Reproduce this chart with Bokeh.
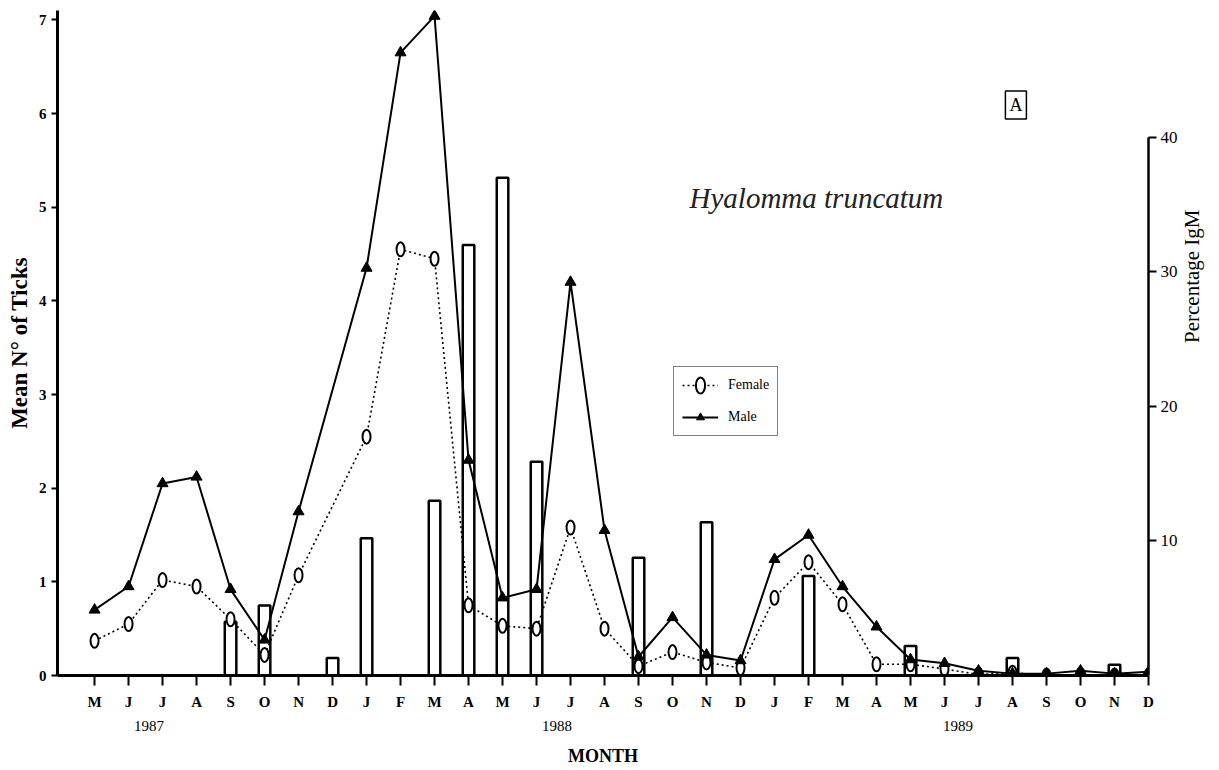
import math
from bokeh.plotting import figure
from bokeh.models import (Range1d, LinearAxis, FixedTicker, Legend, LegendItem, Label)
from bokeh.embed import file_html
from bokeh.resources import INLINE

# ---- data ----
months = ["M", "J", "J", "A", "S", "O", "N", "D",
          "J", "F", "M", "A", "M", "J", "J", "A", "S", "O", "N", "D",
          "J", "F", "M", "A", "M", "J", "J", "A", "S", "O", "N", "D"]
years = ["1987", "1988", "1989"]
year_pos = [1.6, 13.6, 25.4]

female = [0.37, 0.55, 1.02, 0.95, 0.60, 0.22, 1.07, None,
          2.55, 4.55, 4.45, 0.75, 0.53, 0.50, 1.58, 0.50, 0.10, 0.25, 0.14, 0.08,
          0.83, 1.21, 0.76, 0.12, 0.12, 0.07, 0.01, 0.03, 0.00, 0.01, 0.00, 0.00]
male = [0.70, 0.95, 2.05, 2.12, 0.92, 0.38, 1.75, None,
        4.35, 6.65, 7.04, 2.30, 0.83, 0.92, 4.20, 1.55, 0.20, 0.62, 0.22, 0.16,
        1.24, 1.50, 0.95, 0.52, 0.17, 0.13, 0.05, 0.02, 0.02, 0.05, 0.02, 0.04]
igm = [None, None, None, None, 4.0, 5.2, None, 1.3,
       10.2, None, 13.0, 32.0, 37.0, 15.9, None, None, 8.75, None, 11.4, None,
       None, 7.4, None, None, 2.2, None, None, 1.3, None, None, 0.8, None]

left_ticks = [0, 1, 2, 3, 4, 5, 6, 7]
right_ticks = [10, 20, 30, 40]

# ---- derived ----
xs = list(range(len(months)))
fx = [i for i, v in zip(xs, female) if v is not None]
fy = [v for v in female if v is not None]
mx = [i for i, v in zip(xs, male) if v is not None]
my = [v for v in male if v is not None]
bx = [i for i, v in zip(xs, igm) if v is not None]
by = [v for v in igm if v is not None]

SERIF = "Liberation Serif"

p = figure(frame_width=1091, frame_height=665,
           x_range=Range1d(-1.09, 31.0), y_range=Range1d(0, 7.10),
           output_backend="svg", toolbar_location=None,
           min_border_left=57, min_border_right=63,
           min_border_top=10, min_border_bottom=93,
           outline_line_color=None,
           background_fill_color="white", border_fill_color="white")
p.extra_y_ranges = {"igm": Range1d(0, 49.44)}
p.grid.visible = False

# bottom month axis
xa = p.xaxis[0]
xa.ticker = FixedTicker(ticks=xs)
xa.major_label_overrides = {i: m for i, m in enumerate(months)}
xa.axis_line_width = 3
xa.axis_line_color = "black"
xa.major_tick_out = 10
xa.major_tick_in = 0
xa.minor_tick_out = 0
xa.minor_tick_in = 0
xa.major_tick_line_width = 2
xa.major_tick_line_color = "black"
xa.major_label_standoff = 8
xa.major_label_text_font = SERIF
xa.major_label_text_font_size = "15px"
xa.major_label_text_font_style = "bold"
xa.major_label_text_color = "black"

# year axis + MONTH title
yr = LinearAxis(ticker=FixedTicker(ticks=year_pos),
                major_label_overrides=dict(zip(year_pos, years)),
                axis_line_color=None, major_tick_line_color=None,
                minor_tick_line_color=None, major_tick_out=0, major_tick_in=0,
                minor_tick_out=0, minor_tick_in=0,
                major_label_standoff=8,
                major_label_text_font=SERIF, major_label_text_font_size="15px",
                major_label_text_color="black",
                axis_label="MONTH", axis_label_text_font=SERIF,
                axis_label_text_font_size="18px", axis_label_text_font_style="bold",
                axis_label_text_color="black", axis_label_standoff=12)
p.add_layout(yr, "below")

# left axis
ya = p.yaxis[0]
ya.ticker = FixedTicker(ticks=left_ticks)
ya.axis_line_width = 3
ya.axis_line_color = "black"
ya.major_tick_out = 6
ya.major_tick_in = 0
ya.minor_tick_out = 0
ya.minor_tick_in = 0
ya.major_tick_line_width = 2
ya.major_label_standoff = 5
ya.major_label_text_font = SERIF
ya.major_label_text_font_size = "15px"
ya.major_label_text_font_style = "bold"
ya.major_label_text_color = "black"
ya.axis_label = "Mean N° of Ticks"
ya.axis_label_text_font = SERIF
ya.axis_label_text_font_size = "23px"
ya.axis_label_text_font_style = "bold"
ya.axis_label_text_color = "black"
ya.axis_label_standoff = 4

# right axis
ra = LinearAxis(y_range_name="igm", ticker=FixedTicker(ticks=right_ticks),
                bounds=(0, 40), axis_line_width=2.5, axis_line_color="black",
                major_tick_out=8, major_tick_in=0, minor_tick_out=0, minor_tick_in=0,
                major_tick_line_width=2,
                major_label_standoff=4,
                major_label_text_font=SERIF, major_label_text_font_size="17px",
                major_label_text_color="black",
                axis_label="Percentage IgM", axis_label_text_font=SERIF,
                axis_label_text_font_size="21px", axis_label_text_font_style="normal",
                axis_label_text_color="black", axis_label_standoff=11,
                axis_label_orientation=-3 * math.pi / 2)
p.add_layout(ra, "right")

# bars (IgM)
p.vbar(x=bx, top=by, bottom=0, width=0.34, y_range_name="igm",
       fill_color="white", line_color="black", line_width=2.5)

# lines
ml = p.line(mx, my, line_color="black", line_width=2)
fl = p.line(fx, fy, line_color="black", line_width=1.6, line_dash="2 3")
fe = p.ellipse(x=fx, y=fy, width=8, height=14, width_units="screen",
               height_units="screen", fill_color="white", line_color="black",
               line_width=2)
mt = p.scatter(mx, my, marker="triangle", size=11,
               fill_color="black", line_color="black")

legend = Legend(items=[LegendItem(label="Female", renderers=[fl, fe]),
                       LegendItem(label="Male", renderers=[ml, mt])],
                location=(616, 239), border_line_color="black",
                border_line_width=1.5, label_text_font=SERIF,
                label_text_font_size="14px", label_text_color="black",
                glyph_width=36, glyph_height=20, label_standoff=10,
                spacing=12, padding=8,
                margin=0, background_fill_color="white", background_fill_alpha=1)
p.add_layout(legend)

p.add_layout(Label(x=17.5, y=5.1, text="Hyalomma  truncatum",
                   text_font=SERIF, text_font_style="italic",
                   text_font_size="29px", text_color="#222222",
                   text_baseline="middle", text_align="left"))
p.add_layout(Label(x=27.1, y=6.09, text="A", text_font=SERIF,
                   text_font_size="18px", text_color="black",
                   text_baseline="middle", text_align="center",
                   border_line_color="black", border_line_width=1.5,
                   background_fill_color="white", padding=4))

open("out.html", "w").write(file_html(p, INLINE))
